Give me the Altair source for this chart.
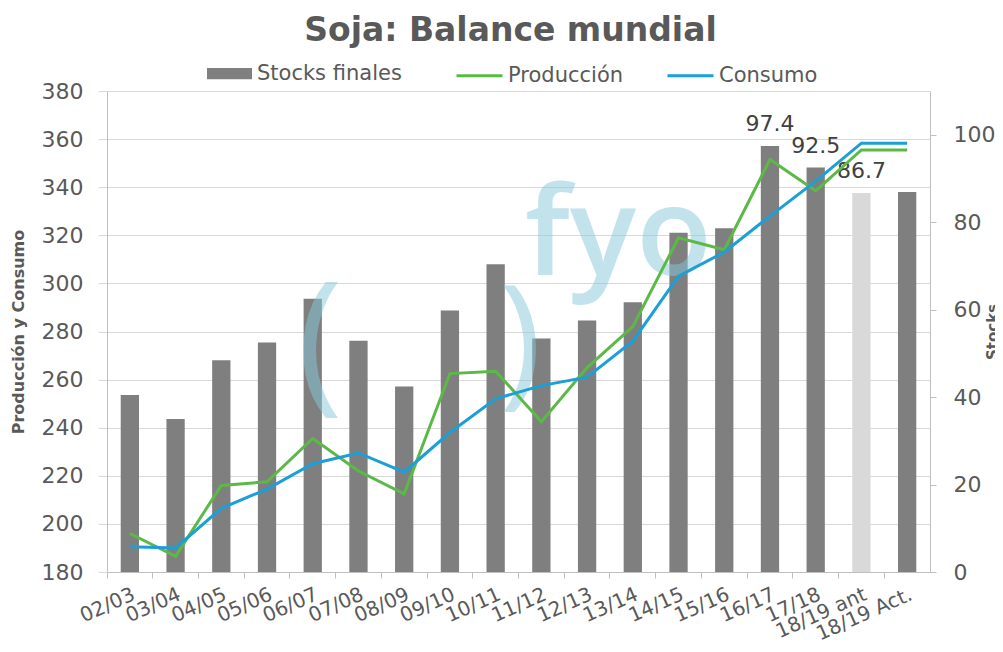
import altair as alt
import pandas as pd

cats = ["02/03", "03/04", "04/05", "05/06", "06/07", "07/08", "08/09", "09/10",
        "10/11", "11/12", "12/13", "13/14", "14/15", "15/16", "16/17", "17/18",
        "18/19 ant", "18/19 Act."]
stocks = [40.5, 35.0, 48.4, 52.5, 62.5, 52.9, 42.4, 59.8, 70.4, 53.4, 57.5,
          61.7, 77.6, 78.6, 97.4, 92.5, 86.7, 86.9]
stock_labels = ["", "", "", "", "", "", "", "", "", "", "", "", "", "",
                "97.4", "92.5", "86.7", ""]
stock_tipo = ["Stocks finales"] * 16 + ["Stocks ant", "Stocks finales"]
produccion = [196.0, 186.5, 216.0, 217.5, 235.5, 222.0, 212.5, 262.5, 263.5,
              242.5, 265.0, 282.0, 319.0, 314.0, 351.5, 338.5, 355.5, 355.5]
consumo = [190.5, 190.0, 206.5, 214.5, 225.0, 229.5, 221.5, 238.0, 252.0,
           257.5, 261.0, 276.0, 303.0, 313.0, 328.0, 342.5, 358.3, 358.3]
series = ["Producción", "Consumo"]
left_ticks = [180, 200, 220, 240, 260, 280, 300, 320, 340, 360, 380]
right_ticks = [0, 20, 40, 60, 80, 100]

FONT = "DejaVu Sans"
TXT = "#595959"
GRAY = "#7f7f7f"
LIGHT = "#d9d9d9"
GREEN = "#5cb947"
BLUE = "#1b9fd6"
W, H = 823, 481

df_bar = pd.DataFrame({"cat": cats, "stock": stocks, "tipo": stock_tipo,
                       "lab": stock_labels})
df_line = pd.DataFrame({
    "cat": cats + cats,
    "valor": produccion + consumo,
    "serie": [series[0]] * len(cats) + [series[1]] * len(cats),
})

x_enc = alt.X(
    "cat:N", sort=cats,
    scale=alt.Scale(paddingInner=0, paddingOuter=0),
    axis=alt.Axis(
        title=None, labelAngle=336, labelAlign="right", labelBaseline="top",
        labelFont=FONT, labelFontSize=20, labelColor=TXT, bandPosition=0,
        tickSize=6, tickColor="#bfbfbf", domainColor="#bfbfbf",
        labelPadding=6, grid=False, labelOverlap=False,
    ),
)

y_right = alt.Y(
    "stock:Q",
    scale=alt.Scale(domain=[0, 110], nice=False, zero=True),
    axis=alt.Axis(
        orient="right", values=right_ticks, grid=False,
        title="Stocks", titleFont=FONT, titleFontSize=15, titleFontWeight="bold",
        titleColor=TXT, titleAngle=270, titleX=62, titleY=H / 2,
        titleAlign="center", titleBaseline="middle",
        labelFont=FONT, labelFontSize=22, labelColor=TXT, labelPadding=17,
        tickSize=6, tickColor="#bfbfbf", domainColor="#bfbfbf",
    ),
)

bars = alt.Chart(df_bar).mark_bar(width=alt.RelativeBandSize(0.4)).encode(
    x=x_enc,
    y=y_right,
    fill=alt.Fill(
        "tipo:N",
        scale=alt.Scale(domain=["Stocks finales", "Stocks ant"], range=[GRAY, LIGHT]),
        legend=alt.Legend(
            title=None, orient="none", legendX=100, legendY=-40,
            values=["Stocks finales"], symbolType="M-1,-0.25H1V0.25H-1Z",
            symbolSize=2025, symbolStrokeWidth=0, labelFont=FONT,
            labelFontSize=21, labelColor=TXT, labelOffset=5, padding=0,
        ),
    ),
)

labels = alt.Chart(df_bar).mark_text(
    font=FONT, fontSize=22, color="#404040", baseline="alphabetic", dy=-15
).encode(x=x_enc, y=y_right, text="lab:N")

stock_layer = alt.layer(bars, labels)

wm_df = pd.DataFrame({"t": ["fyo"]})
wm_style = dict(font="Open Sans", color="#86c9da", opacity=0.5, align="left",
                baseline="alphabetic")
wm_fyo = alt.Chart(wm_df).mark_text(fontSize=124, fontWeight=600, **wm_style).encode(
    text=alt.value("fyo"), x=alt.value(418), y=alt.value(184))
wm_open = alt.Chart(wm_df).mark_text(fontSize=155, fontWeight=400, **wm_style).encode(
    text=alt.value("("), x=alt.value(190), y=alt.value(302))
wm_close = alt.Chart(wm_df).mark_text(fontSize=145, fontWeight=400, **wm_style).encode(
    text=alt.value(")"), x=alt.value(392), y=alt.value(298))

lines = alt.Chart(df_line).mark_line(strokeWidth=3).encode(
    x=x_enc,
    y=alt.Y(
        "valor:Q",
        scale=alt.Scale(domain=[180, 380], nice=False, zero=False),
        axis=alt.Axis(
            orient="left", values=left_ticks, grid=True, gridColor=LIGHT,
            title="Producción y Consumo", titleFont=FONT, titleFontSize=16,
            titleFontWeight="bold", titleColor=TXT, titleAngle=270,
            titleX=-89, titleY=H / 2, titleAlign="center", titleBaseline="middle",
            labelFont=FONT, labelFontSize=22, labelColor=TXT, labelPadding=15,
            tickSize=9, tickColor=LIGHT, domainColor="#bfbfbf",
        ),
    ),
    stroke=alt.Stroke(
        "serie:N",
        scale=alt.Scale(domain=series, range=[GREEN, BLUE]),
        legend=alt.Legend(
            title=None, orient="none", direction="horizontal",
            legendX=348, legendY=-40, symbolType="stroke", symbolSize=2116,
            symbolStrokeWidth=3, labelFont=FONT, labelFontSize=21,
            labelColor=TXT, labelOffset=4, columnPadding=37, padding=0,
        ),
    ),
    detail="serie:N",
)

chart = alt.layer(stock_layer, wm_fyo, wm_open, wm_close, lines).resolve_scale(
    y="independent"
).properties(
    width=W, height=H,
    title=alt.TitleParams(
        "Soja: Balance mundial", font=FONT, fontSize=33, fontWeight="bold",
        color=TXT, anchor="middle", frame="group", dx=-8, offset=3,
    ),
    autosize=alt.AutoSizeParams(type="none"),
    padding={"left": 99, "top": 83, "right": 65, "bottom": 72},
    background="white",
).configure_view(strokeWidth=0)

chart.save("out.html", embed_options={"renderer": "svg", "actions": False})
